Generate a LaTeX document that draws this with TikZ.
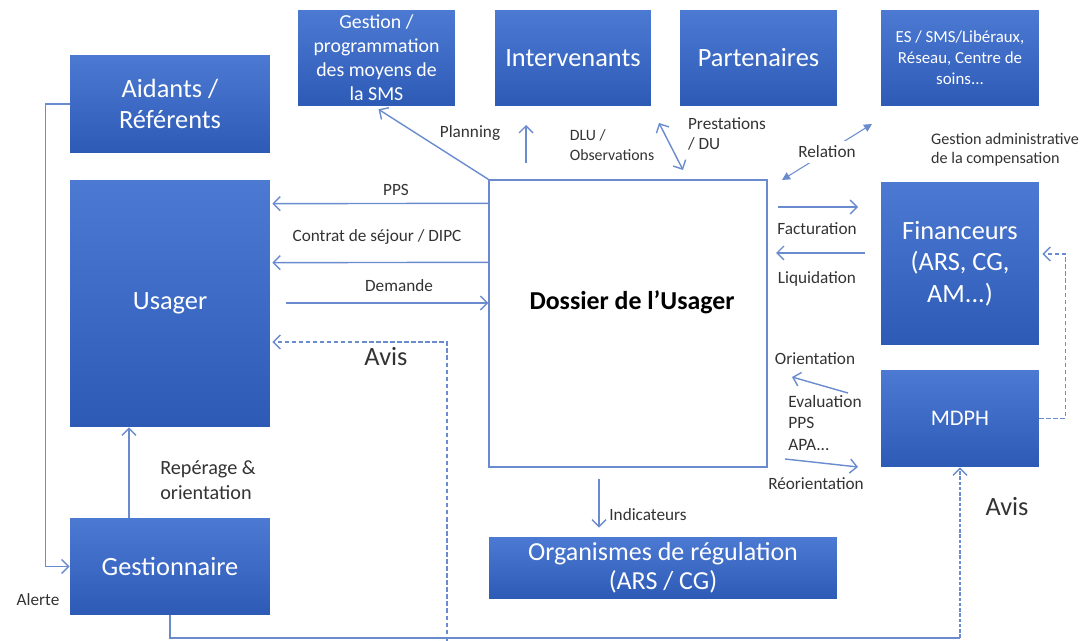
\documentclass[tikz,border=0pt]{standalone}
\usepackage{fontspec}
\setmainfont{Carlito}
\usetikzlibrary{arrows.meta,calc}
\definecolor{boxtop}{HTML}{4C7AD3}
\definecolor{boxbot}{HTML}{2D5AB5}
\definecolor{linkc}{HTML}{6A8CCF}
\definecolor{labc}{HTML}{333333}
\tikzset{
  box/.style={top color=boxtop, bottom color=boxbot, draw=none, text=white,
              align=center, inner sep=2pt},
  link/.style={draw=linkc, line width=0.8pt, -{Straight Barb[length=1.4mm,width=2.8mm]}},
  dlink/.style={link, dash pattern=on 2.5pt off 1.5pt},
  dbl/.style={draw=linkc, line width=0.8pt,
              {Straight Barb[length=1.4mm,width=2.8mm]}-{Straight Barb[length=1.4mm,width=2.8mm]}},
  rel/.style={draw=linkc, line width=0.6pt,
              {Triangle[length=1.6mm,width=1.6mm]}-{Triangle[length=1.6mm,width=1.6mm]}},
  lbl/.style={text=labc, align=center, inner sep=1pt, font=\fontsize{9.8}{11.5}\selectfont},
  bigtxt/.style={font=\fontsize{15}{18}\selectfont}
}

\begin{document}
\begin{tikzpicture}[x=0.02cm,y=-0.02cm]
        \useasboundingbox (0,0) rectangle (1082,641);

        % boxes
        \node[box,bigtxt,minimum width=4cm,minimum height=1.96cm] (aid) at (170,104) {Aidants /\\Référents};
        \node[box,minimum width=3.14cm,minimum height=1.92cm,font=\fontsize{11.3}{13.6}\selectfont] (gest) at (376.5,58) {Gestion /\\programmation\\des moyens de\\la SMS};
        \node[box,bigtxt,minimum width=3.12cm,minimum height=1.92cm] (interv) at (573,58) {Intervenants};
        \node[box,bigtxt,minimum width=3.14cm,minimum height=1.92cm] (part) at (758.5,58) {Partenaires};
        \node[box,minimum width=3.16cm,minimum height=1.92cm,font=\fontsize{9.6}{12}\selectfont] (es) at (960,58) {ES / SMS/Libéraux,\\Réseau, Centre de\\soins...};
        \node[box,bigtxt,minimum width=4cm,minimum height=4.94cm] (usager) at (170,303.5) {Usager};
        \node[draw=linkc,line width=0.8pt,fill=white,minimum width=5.56cm,minimum height=5.74cm] (dos) at (628,323.5) {};
        \node[font=\bfseries\fontsize{14.7}{17}\selectfont] (dostxt) at (632,302) {Dossier de l’Usager};
        \node[box,bigtxt,minimum width=3.16cm,minimum height=3.26cm] (fin) at (960,263.5) {Financeurs\\(ARS, CG,\\AM...)};
        \node[box,minimum width=3.16cm,minimum height=1.94cm,font=\fontsize{12.7}{15}\selectfont] (mdph) at (960,418.5) {MDPH};
        \node[box,bigtxt,minimum width=4cm,minimum height=1.94cm] (gestr) at (170,566.5) {Gestionnaire};
        \node[box,minimum width=6.96cm,minimum height=1.24cm,font=\fontsize{14.8}{16.5}\selectfont] (org) at (663,568) {Organismes de régulation\\(ARS / CG)};

        % free ends
        \coordinate (intA) at (526,163);
        \coordinate (dluA) at (659,123);
        \coordinate (dluB) at (683,170);
        \coordinate (relA) at (782,180);
        \coordinate (relB) at (872,124);
        \coordinate (facA) at (778,207);
        \coordinate (liqA) at (865,253);
        \coordinate (demA) at (286,303);
        \coordinate (oriA) at (848,393);
        \coordinate (reoA) at (785,459);
        \coordinate (avisB) at (447,641);
        \coordinate (botR) at (960,638);

        % connectors
        \draw[link] (dos.north west) -- ($(gest.south)+(2,3)$);
        \draw[link] (intA) -- ++(0,-38);
        \draw[dbl] (dluA) -- (dluB);
        \draw[rel] (relA) -- node[lbl,fill=white,inner sep=3pt] (lrel) {Relation} (relB);
        \draw[link] ($(dos.north west)+(0,24)$) -- ($(usager.north east)+(2,24)$);
        \draw[link] ($(dos.north west)+(0,83)$) -- ($(usager.north east)+(2,83)$);
        \draw[link] (demA) -- (demA -| dos.west);
        \draw[dlink] (avisB) |- ($(usager.east)+(2,38.5)$);
        \draw[link] ($(gestr.north)+(-41,0)$) -- ($(usager.south)+(-41,0)$);
        \draw[link] (aid.west) -- ++(-24,0) |- (gestr.west);
        \draw[draw=linkc,line width=0.8pt] (gestr.south) |- (botR);
        \draw[dlink,dash pattern=on 2pt off 1pt] (botR) -- (mdph.south);
        \draw[dlink] (mdph.east) -- ++(26,0) |- ($(fin.east)+(3,-9.5)$);
        \draw[link] (facA) -- ++(80,0);
        \draw[link] (liqA) -- ++(-89,0);
        \draw[link] (oriA) -- ++(-56,-16);
        \draw[link] (reoA) -- ++(73,8);
        \draw[link] ($(dos.south)+(-29,11)$) -- ++(0,49);

        % labels
        \node[lbl] (lplan) at (470,133) {Planning};
        \node[lbl,align=left,font=\fontsize{9}{11}\selectfont] (ldlu) at (612,145) {DLU /\\Observations};
        \node[lbl,align=left] (lpres) at (727,134) {Prestations\\/ DU};
        \node[lbl,align=left,font=\fontsize{9.2}{11}\selectfont] (lgad) at (1005,150) {Gestion administrative\\de la compensation};
        \node[lbl] (lpps) at (396,190) {PPS};
        \node[lbl] (lcon) at (377,237) {Contrat de séjour / DIPC};
        \node[lbl] (ldem) at (399,286) {Demande};
        \node[lbl,font=\fontsize{15}{17}\selectfont] (lavis) at (386,357) {Avis};
        \node[lbl,align=left,font=\fontsize{11.5}{14}\selectfont] (lrep) at (208,480) {Repérage \&\\orientation};
        \node[lbl,font=\fontsize{9.8}{11}\selectfont] (lale) at (38,600) {Alerte};
        \node[lbl] (lind) at (648,515) {Indicateurs};
        \node[lbl] (lfac) at (817,229) {Facturation};
        \node[lbl] (lliq) at (817,279) {Liquidation};
        \node[lbl] (lori) at (815,359) {Orientation};
        \node[lbl,align=left,font=\fontsize{9.9}{12}\selectfont] (leva) at (825,423) {Evaluation\\PPS\\APA...};
        \node[lbl] (lreo) at (816,484) {Réorientation};
        \node[lbl,font=\fontsize{15}{17}\selectfont] (lavis2) at (1007,507) {Avis};
\end{tikzpicture}
\end{document}
